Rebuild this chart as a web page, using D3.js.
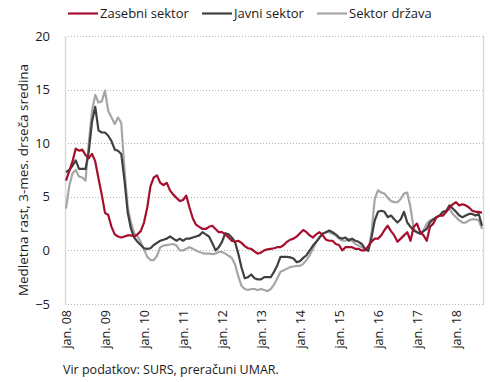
<!DOCTYPE html>
<html><head><meta charset="utf-8">
<script src="https://cdn.jsdelivr.net/npm/d3@7"></script>
<style>
body{margin:0;background:#fff;}
text{font-family:"Open Sans",sans-serif;fill:#1a1a1a;}
</style></head>
<body><svg id="c" width="490" height="382"></svg>
<script>
const seriesNames = ["Zasebni sektor", "Javni sektor", "Sektor država"];
const seriesColors = ["#a50f2d", "#404040", "#a6a6a6"];
const xTickIdx = [0,12,24,36,48,60,72,84,96,108,120];
const xTickLabels = ["jan. 08","jan. 09","jan. 10","jan. 11","jan. 12","jan. 13","jan. 14","jan. 15","jan. 16","jan. 17","jan. 18"];
const yTicks = [-5,0,5,10,15,20];

const zasebni = [6.5,7.4,8.3,9.5,9.3,9.4,8.9,8.6,9.0,8.3,6.7,5.2,3.5,3.3,2.2,1.5,1.3,1.2,1.3,1.4,1.4,1.3,1.5,1.8,
2.6,4.0,6.0,6.8,7.0,6.3,6.1,6.3,5.6,5.2,4.9,4.6,4.7,5.1,4.0,3.0,2.4,2.2,2.0,2.0,2.2,2.3,2.0,1.7,
1.7,1.5,1.2,0.9,0.8,0.9,0.7,0.4,0.2,0.15,-0.1,-0.3,-0.2,0.0,0.1,0.15,0.2,0.3,0.3,0.5,0.8,1.0,1.1,1.3,
1.6,1.9,1.7,1.4,1.2,1.5,1.7,1.4,1.0,0.9,0.9,0.6,0.5,0.0,0.3,0.3,0.3,0.15,0.15,0.0,0.0,0.4,0.8,1.1,
1.1,1.4,1.9,2.3,1.8,1.4,0.8,1.1,1.4,1.7,0.9,2.2,2.5,1.7,1.4,0.9,2.2,2.5,3.1,3.25,3.25,3.6,4.0,4.3,
4.5,4.2,4.3,4.2,4.0,3.7,3.6,3.6,3.5];
const javni = [7.3,7.5,7.9,8.4,7.6,7.6,7.6,9.2,12.0,13.4,11.2,11.0,11.0,10.7,10.2,9.4,9.3,9.0,6.5,3.5,2.0,1.2,0.8,0.5,
0.2,0.15,0.2,0.5,0.7,0.9,1.0,1.1,1.3,1.1,0.9,1.1,0.9,1.1,1.1,1.2,1.3,1.4,1.7,1.5,1.3,0.7,0.0,0.3,
0.8,1.6,1.5,1.2,0.8,-0.3,-1.6,-2.6,-2.5,-2.25,-2.6,-2.7,-2.7,-2.5,-2.5,-2.5,-2.0,-1.4,-0.6,-0.6,-0.6,-0.65,-0.75,-1.1,
-1.0,-0.7,-0.45,0.0,0.45,0.8,1.2,1.55,1.7,1.85,1.7,1.5,1.2,1.1,1.2,0.9,1.1,0.9,0.8,0.6,0.15,-0.05,1.2,2.8,
3.6,3.7,3.6,3.1,3.25,2.9,2.6,2.9,3.6,2.6,2.2,1.85,1.7,1.55,1.8,2.0,2.6,2.9,3.1,3.25,3.6,3.7,4.2,3.9,
3.6,3.25,3.1,3.25,3.4,3.4,3.25,3.4,2.3];
const drzava = [3.9,6.0,7.2,7.5,6.9,6.8,6.5,10.0,13.0,14.5,13.8,13.9,14.9,13.0,12.4,11.8,12.4,11.9,7.5,4.0,2.6,1.6,1.3,0.8,
0.1,-0.6,-0.9,-0.9,-0.5,0.3,0.45,0.5,0.55,0.6,0.45,0.0,0.0,0.15,0.3,0.15,0.0,-0.15,-0.25,-0.3,-0.3,-0.35,-0.3,-0.15,
-0.15,-0.3,-0.5,-0.7,-1.3,-2.4,-3.3,-3.6,-3.7,-3.6,-3.6,-3.7,-3.6,-3.7,-3.8,-3.6,-3.2,-2.6,-2.0,-1.85,-1.7,-1.55,-1.5,-1.45,
-1.45,-1.25,-0.9,-0.45,0.15,0.8,1.2,1.6,1.7,1.7,1.55,1.4,1.1,0.9,0.9,1.1,0.9,0.6,0.45,0.3,0.15,0.0,1.6,4.8,
5.6,5.4,5.3,4.9,4.6,4.5,4.5,4.8,5.3,5.4,4.0,2.0,1.7,1.55,1.85,2.5,2.8,2.9,3.1,3.25,3.6,3.7,3.9,3.4,
3.1,2.8,2.6,2.6,2.8,2.9,2.9,2.8,2.0];

const svg = d3.select("#c");
const L = 65, R = 483, T = 36, B = 304;
const x = d3.scaleLinear().domain([0, 128]).range([66, 482]);
const y = d3.scaleLinear().domain([-5, 20]).range([B, T]);

// gridlines
svg.append("g").selectAll("line").data(yTicks).join("line")
  .attr("x1", L).attr("x2", R)
  .attr("y1", d => Math.round(y(d)) + 0.5).attr("y2", d => Math.round(y(d)) + 0.5)
  .attr("stroke", "#b5b5b5").attr("stroke-width", 1).attr("stroke-dasharray", "1,2");
// frame verticals
svg.append("line").attr("x1", L + 0.5).attr("x2", L + 0.5).attr("y1", T).attr("y2", B + 1)
  .attr("stroke", "#d9d9d9").attr("stroke-width", 1.5);
svg.append("line").attr("x1", R + 0.5).attr("x2", R + 0.5).attr("y1", T).attr("y2", B + 1)
  .attr("stroke", "#d9d9d9").attr("stroke-width", 1.5);

// y axis labels
const yAxis = svg.append("g").attr("transform", `translate(${L},0)`)
  .call(d3.axisLeft(y).tickValues(yTicks).tickSize(0).tickPadding(15).tickFormat(d3.format("d")));
yAxis.select(".domain").remove();
yAxis.selectAll("text").style("font-size", "13px").style("font-family", "'Open Sans',sans-serif").attr("fill", "#1a1a1a");

// x axis labels
const xAxis = svg.append("g").attr("transform", `translate(0,${B})`)
  .call(d3.axisBottom(x).tickValues(xTickIdx).tickSize(0).tickFormat((d, i) => xTickLabels[i]));
xAxis.select(".domain").remove();
xAxis.selectAll("text")
  .style("font-size", "12.5px").style("font-family", "'Open Sans',sans-serif").attr("fill", "#1a1a1a")
  .attr("transform", "rotate(-90)").attr("text-anchor", "end")
  .attr("x", -6).attr("y", 0).attr("dy", "0.35em");

// lines
const line = d3.line().x((d, i) => x(i)).y(d => y(d));
const data = [zasebni, javni, drzava];
[2, 1, 0].forEach(k => {
  svg.append("path").datum(data[k]).attr("d", line)
    .attr("fill", "none").attr("stroke", seriesColors[k]).attr("stroke-width", 2.2)
    .attr("stroke-linejoin", "round");
});

// legend
const legendX = [68, 202, 317];
seriesNames.forEach((s, k) => {
  svg.append("line").attr("x1", legendX[k]).attr("x2", legendX[k] + 30)
    .attr("y1", 13.5).attr("y2", 13.5).attr("stroke", seriesColors[k]).attr("stroke-width", 2.2);
  svg.append("text").attr("x", legendX[k] + 32).attr("y", 18)
    .style("font-size", "13px").text(s);
});

// y title
svg.append("text").attr("transform", "translate(23,180) rotate(-90)")
  .attr("text-anchor", "middle").attr("dy", "0.35em").style("font-size", "13.5px")
  .text("Medletna rast, 3-mes. drseča sredina");

// source
svg.append("text").attr("x", 63).attr("y", 374).style("font-size", "12.5px")
  .text("Vir podatkov: SURS, preračuni UMAR.");
</script></body></html>
